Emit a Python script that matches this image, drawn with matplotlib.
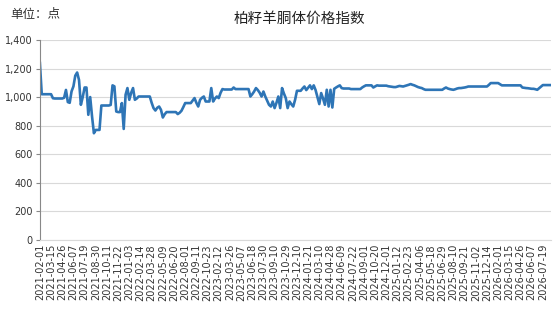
import numpy as np
import matplotlib
matplotlib.use("Agg")
import matplotlib.pyplot as plt
from matplotlib.ticker import FuncFormatter

plt.rcParams['font.family'] = ['Noto Sans CJK SC', 'DejaVu Sans']

# Valores (índice semanal)
valores = [
    1239, 1020, 1020, 1020, 1020, 1020, 1020, 992, 990, 990,
    990, 990, 990, 995, 1050, 965, 960, 1040, 1075, 1150,
    1172, 1120, 946, 1000, 1067, 1067, 876, 1000, 864, 747,
    770, 770, 770, 941, 941, 941, 941, 941, 945, 1082,
    1075, 899, 895, 895, 958, 777, 1016, 1063, 981, 1030,
    1063, 981, 990, 1004, 1004, 1004, 1004, 1004, 1004, 1004,
    960, 923, 906, 925, 934, 911, 857, 880, 895, 895,
    895, 895, 895, 895, 881, 890, 904, 930, 958, 958,
    958, 958, 975, 993, 960, 934, 981, 995, 1004, 969,
    969, 969, 1063, 969, 990, 1004, 993, 1030, 1056, 1053,
    1053, 1053, 1053, 1053, 1067, 1056, 1056, 1056, 1056, 1056,
    1056, 1056, 1056, 1004, 1020, 1039, 1063, 1049, 1030, 1004,
    1039, 1004, 975, 946, 934, 969, 923, 960, 1004, 923,
    1063, 1025, 993, 923, 969, 950, 934, 981, 1044, 1044,
    1044, 1060, 1074, 1049, 1065, 1082, 1056, 1082, 1049, 1000,
    951, 1028, 990, 946, 1051, 934, 1051, 927, 1058, 1067,
    1075, 1082, 1063, 1060, 1060, 1060, 1060, 1056, 1056, 1056,
    1056, 1056, 1056, 1067, 1075, 1082, 1082, 1082, 1082, 1067,
    1075, 1082, 1080, 1080, 1080, 1080, 1080, 1076, 1074, 1072,
    1070, 1070, 1074, 1078, 1076, 1074, 1078, 1082, 1086, 1091,
    1086, 1082, 1076, 1070, 1066, 1063, 1056, 1051, 1051, 1051,
    1051, 1051, 1051, 1051, 1051, 1051, 1051, 1060, 1067, 1060,
    1056, 1053, 1051, 1055, 1060, 1063, 1063, 1065, 1067, 1070,
    1074, 1074, 1074, 1074, 1074, 1074, 1074, 1074, 1074, 1074,
    1074, 1085, 1098, 1098, 1098, 1098, 1098, 1090, 1082, 1082,
    1082, 1082, 1082, 1082, 1082, 1082, 1082, 1082, 1082, 1067,
    1065, 1063, 1062, 1060, 1058, 1058, 1055, 1051, 1062, 1074,
    1084, 1084, 1084, 1084, 1084,
]

etiquetas = [
    "2021-02-01", "2021-03-15", "2021-04-26", "2021-06-07", "2021-07-19",
    "2021-08-30", "2021-10-11", "2021-11-22", "2022-01-03", "2022-02-14",
    "2022-03-28", "2022-05-09", "2022-06-20", "2022-08-01", "2022-09-11",
    "2022-10-23", "2023-02-12", "2023-03-26", "2023-05-07", "2023-06-18",
    "2023-07-30", "2023-09-10", "2023-10-29", "2023-12-10", "2024-01-21",
    "2024-03-10", "2024-04-28", "2024-06-09", "2024-07-22", "2024-09-01",
    "2024-10-20", "2024-12-01", "2025-01-12", "2025-02-23", "2025-04-06",
    "2025-05-18", "2025-06-29", "2025-08-10", "2025-09-21", "2025-11-02",
    "2025-12-14", "2026-02-01", "2026-03-15", "2026-04-26", "2026-06-07",
    "2026-07-19",
]
paso_etiqueta = 6

y_ticks = [0, 200, 400, 600, 800, 1000, 1200, 1400]

x = np.arange(len(valores))

fig = plt.figure(figsize=(5.54, 3.12), dpi=100)
ax = fig.add_axes([0.072, 0.231, 0.923, 0.641])

ax.plot(x, valores, color="#2E75B6", linewidth=1.9, solid_joinstyle="round")

ax.set_ylim(0, 1400)
ax.set_yticks(y_ticks)
ax.yaxis.set_major_formatter(FuncFormatter(lambda v, p: f"{int(v):,}"))
ax.set_xlim(0, len(valores) - 0.5)
ax.set_xticks(x[::paso_etiqueta])
ax.set_xticklabels(etiquetas, rotation=90)

ax.grid(axis="y", color="#D9D9D9", linewidth=0.8)
ax.set_axisbelow(True)
for lado in ["top", "right"]:
    ax.spines[lado].set_visible(False)
ax.spines["left"].set_color("#888888")
ax.spines["bottom"].set_color("#D9D9D9")
ax.tick_params(axis="y", labelsize=7, length=3, color="#888888", pad=2)
ax.tick_params(axis="x", labelsize=7, length=0, pad=3)
for lbl in ax.get_xticklabels() + ax.get_yticklabels():
    lbl.set_family("DejaVu Sans")
    lbl.set_color("#333333")

fig.text(0.018, 0.955, "单位：点", fontsize=9, color="#333333", va="center")
fig.text(0.54, 0.94, "柏籽羊胴体价格指数", fontsize=10.5, color="#222222",
         ha="center", va="center")

fig.savefig("out.png", dpi=100)
